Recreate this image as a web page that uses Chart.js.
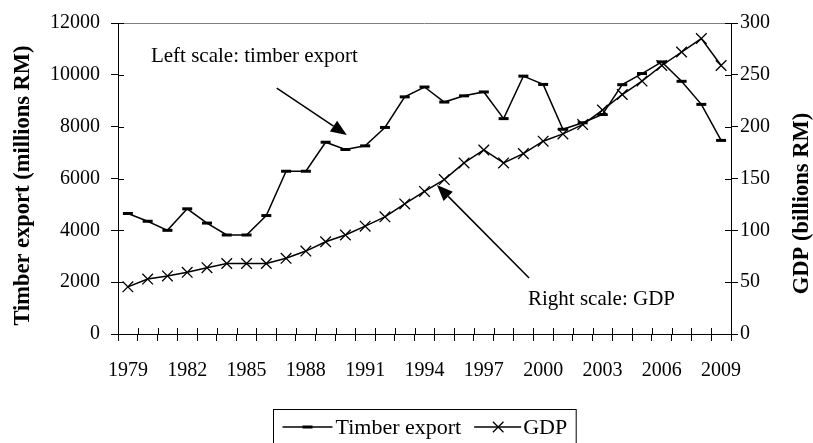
<!DOCTYPE html>
<html>
<head>
<meta charset="utf-8">
<script src="https://cdn.jsdelivr.net/npm/chart.js@4/dist/chart.umd.min.js"></script>
<style>
        body { margin: 0; background: #fff; }
        canvas { display: block; }
</style>
</head>
<body>
<canvas id="grafico" width="813" height="443"></canvas>
<script>
// datos
const anios = ['1979', '1980', '1981', '1982', '1983', '1984', '1985', '1986', '1987', '1988',
        '1989', '1990', '1991', '1992', '1993', '1994', '1995', '1996', '1997', '1998',
        '1999', '2000', '2001', '2002', '2003', '2004', '2005', '2006', '2007', '2008', '2009'];
const exportMadera = [4650, 4350, 4000, 4830, 4280, 3820, 3820, 4570, 6280, 6280,
        7400, 7120, 7260, 7970, 9150, 9530, 8950, 9190, 9340, 8310,
        9950, 9630, 7900, 8150, 8470, 9620, 10050, 10500, 9750, 8860, 7470];
const pib = [45.5, 53, 56, 59.5, 64, 68, 68, 68, 73, 80,
        89, 95.5, 104, 113, 125.5, 137.5, 149, 165, 177.5, 165,
        174, 186, 193, 202, 216, 231, 244, 259, 272, 285, 259];
const nombres = ['Timber export', 'GDP'];
const tituloIzq = 'Timber export (millions RM)';
const tituloDer = 'GDP (billions RM)';
// notas: posicion en indice de categoria y valor de la escala izquierda
const notas = [
        { texto: 'Left scale: timber export', x: 6.4, y: 10690 },
        { texto: 'Right scale: GDP', x: 23.95, y: 1350 }
];
const flechas = [
        { x1: 7.53, y1: 9490, x2: 11.07, y2: 7680 },
        { x1: 20.29, y1: 2160, x2: 15.63, y2: 5750 }
];

const fuente = 'Liberation Serif, Times New Roman, serif';

function marca(ctx, tipo, x, y) {
        ctx.beginPath();
        if (tipo === 'line') {
                ctx.lineWidth = 3;
                ctx.moveTo(x - 5, y);
                ctx.lineTo(x + 5, y);
        } else {
                const d = 5.3;
                ctx.lineWidth = 1.3;
                ctx.moveTo(x - d, y - d);
                ctx.lineTo(x + d, y + d);
                ctx.moveTo(x - d, y + d);
                ctx.lineTo(x + d, y - d);
        }
        ctx.stroke();
}

function flecha(ctx, x1, y1, x2, y2) {
        const ang = Math.atan2(y2 - y1, x2 - x1);
        const largo = 16, ancho = 6.5;
        const bx = x2 - Math.cos(ang) * largo;
        const by = y2 - Math.sin(ang) * largo;
        ctx.lineWidth = 1.5;
        ctx.beginPath();
        ctx.moveTo(x1, y1);
        ctx.lineTo(bx, by);
        ctx.stroke();
        ctx.beginPath();
        ctx.moveTo(x2, y2);
        ctx.lineTo(bx + Math.sin(ang) * ancho, by - Math.cos(ang) * ancho);
        ctx.lineTo(bx - Math.sin(ang) * ancho, by + Math.cos(ang) * ancho);
        ctx.closePath();
        ctx.fill();
}

const extras = {
        id: 'extras',
        afterDraw(chart) {
                const ctx = chart.ctx;
                const area = chart.chartArea;
                const ex = chart.scales.x, yi = chart.scales.y, yd = chart.scales.y2;
                ctx.save();

                // borde superior gris
                ctx.strokeStyle = '#808080';
                ctx.lineWidth = 1;
                ctx.beginPath();
                ctx.moveTo(area.left, Math.round(area.top) + 0.5);
                ctx.lineTo(area.right, Math.round(area.top) + 0.5);
                ctx.stroke();

                // marcas hacia adentro
                ctx.strokeStyle = '#000';
                ctx.beginPath();
                for (let i = 0; i <= anios.length; i++) {
                        const px = Math.round(ex.getPixelForValue(i - 0.5)) + 0.5;
                        ctx.moveTo(px, area.bottom);
                        ctx.lineTo(px, area.bottom - 6);
                }
                yi.ticks.forEach(t => {
                        const py = Math.round(yi.getPixelForValue(t.value)) + 0.5;
                        ctx.moveTo(area.left, py);
                        ctx.lineTo(area.left + 6, py);
                });
                yd.ticks.forEach(t => {
                        const py = Math.round(yd.getPixelForValue(t.value)) + 0.5;
                        ctx.moveTo(area.right, py);
                        ctx.lineTo(area.right - 6, py);
                });
                ctx.stroke();

                // titulos de ejes
                ctx.fillStyle = '#000';
                ctx.font = 'bold 22.5px ' + fuente;
                ctx.textAlign = 'center';
                ctx.textBaseline = 'middle';
                const medio = (area.top + area.bottom) / 2;
                ctx.save();
                ctx.translate(yi.left + 23, medio + 7);
                ctx.rotate(-Math.PI / 2);
                ctx.fillText(tituloIzq, 0, 0);
                ctx.restore();
                ctx.save();
                ctx.translate(yd.left + 71, medio + 25);
                ctx.rotate(-Math.PI / 2);
                ctx.fillText(tituloDer, 0, 0);
                ctx.restore();

                // notas y flechas
                ctx.font = '21px ' + fuente;
                notas.forEach(n => {
                        ctx.fillText(n.texto, ex.getPixelForValue(n.x), yi.getPixelForValue(n.y));
                });
                flechas.forEach(f => {
                        flecha(ctx, ex.getPixelForValue(f.x1), yi.getPixelForValue(f.y1),
                                ex.getPixelForValue(f.x2), yi.getPixelForValue(f.y2));
                });

                // leyenda
                ctx.font = '22px ' + fuente;
                ctx.textAlign = 'left';
                const w1 = ctx.measureText(nombres[0]).width;
                const w2 = ctx.measureText(nombres[1]).width;
                const total = 9 + 50 + 3 + w1 + 13 + 47 + 2 + w2 + 9;
                const izq = Math.round((area.left + area.right) / 2 - total / 2) + 0.5;
                const arriba = 409.5;
                const cy = 427;
                ctx.lineWidth = 1;
                ctx.strokeRect(izq, arriba, total, 60);
                let px = izq + 9;
                ctx.lineWidth = 1.5;
                ctx.beginPath(); ctx.moveTo(px, cy); ctx.lineTo(px + 50, cy); ctx.stroke();
                marca(ctx, 'line', px + 25, cy);
                ctx.fillText(nombres[0], px + 53, cy + 1);
                px += 53 + w1 + 13;
                ctx.lineWidth = 1.5;
                ctx.beginPath(); ctx.moveTo(px, cy); ctx.lineTo(px + 47, cy); ctx.stroke();
                marca(ctx, 'x', px + 24, cy);
                ctx.fillText(nombres[1], px + 49, cy + 1);

                ctx.restore();
        }
};

const fuenteTicks = { family: fuente, size: 20 };
const sinComas = v => String(v);

const myChart = new Chart(document.getElementById('grafico'), {
        type: 'line',
        data: {
                labels: anios,
                datasets: [{
                        label: nombres[0],
                        data: exportMadera,
                        yAxisID: 'y',
                        borderColor: '#000',
                        borderWidth: 1.5,
                        pointStyle: 'line',
                        pointRadius: 5,
                        pointBorderWidth: 3,
                        pointBorderColor: '#000',
                        pointBackgroundColor: '#000',
                        tension: 0,
                        fill: false
                }, {
                        label: nombres[1],
                        data: pib,
                        yAxisID: 'y2',
                        borderColor: '#000',
                        borderWidth: 1.5,
                        pointStyle: 'crossRot',
                        pointRadius: 7.5,
                        pointBorderWidth: 1.3,
                        pointBorderColor: '#000',
                        tension: 0,
                        fill: false
                }]
        },
        options: {
                responsive: false,
                devicePixelRatio: 1,
                animation: false,
                layout: { padding: { top: 23, left: 0, right: 0, bottom: 0 } },
                plugins: {
                        legend: { display: false },
                        tooltip: { enabled: false }
                },
                scales: {
                        x: {
                                type: 'category',
                                offset: true,
                                grid: { offset: true, drawOnChartArea: false, drawTicks: true, tickLength: 7, color: '#000' },
                                border: { display: true, color: '#000', width: 1 },
                                ticks: {
                                        autoSkip: false,
                                        maxRotation: 0,
                                        minRotation: 0,
                                        color: '#000',
                                        font: fuenteTicks,
                                        padding: 18,
                                        callback: function (v, i) {
                                                return i % 3 === 0 ? this.getLabelForValue(v) : '';
                                        }
                                },
                                afterFit: s => { s.height = 109; }
                        },
                        y: {
                                position: 'left',
                                min: 0,
                                max: 12000,
                                grid: { drawOnChartArea: false, drawTicks: true, tickLength: 7, color: '#000' },
                                border: { display: true, color: '#000', width: 1 },
                                ticks: { stepSize: 2000, color: '#000', font: fuenteTicks, padding: 11, callback: sinComas },
                                afterFit: s => { s.width = 118; }
                        },
                        y2: {
                                position: 'right',
                                min: 0,
                                max: 300,
                                grid: { drawOnChartArea: false, drawTicks: true, tickLength: 7, color: '#000' },
                                border: { display: true, color: '#000', width: 1 },
                                ticks: { stepSize: 50, color: '#000', font: fuenteTicks, padding: 2, callback: sinComas },
                                afterFit: s => { s.width = 82; }
                        }
                }
        },
        plugins: [extras]
});
</script>
</body>
</html>
